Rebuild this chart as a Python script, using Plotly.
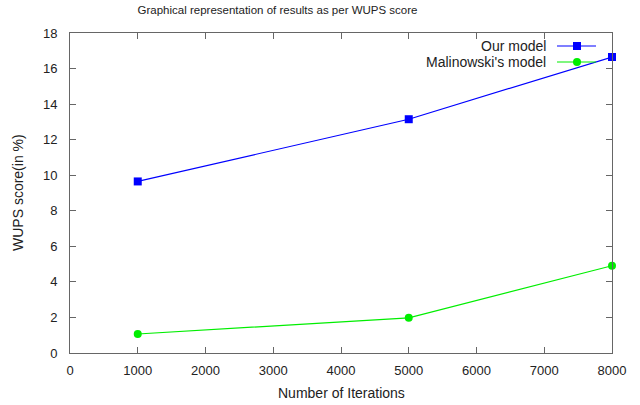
import plotly.graph_objects as go

iterations = [1000, 5000, 8000]
our_model = [9.65, 13.15, 16.65]
malinowski = [1.07, 1.98, 4.91]
x_ticks = [0, 1000, 2000, 3000, 4000, 5000, 6000, 7000, 8000]
y_ticks = [0, 2, 4, 6, 8, 10, 12, 14, 16, 18]
names = ["Our model", "Malinowski's model"]
colors = ["#0000ff", "#00ee00"]
symbols = ["square", "circle"]

W, H = 640, 405
L, R, T, B = 70, 28, 33, 52
TXT = "#222222"

fig = go.Figure()
for vals, name, c, s in zip([our_model, malinowski], names, colors, symbols):
    fig.add_trace(go.Scatter(x=iterations, y=vals, name=name, mode="lines+markers",
                             line=dict(color=c, width=1.2),
                             marker=dict(symbol=s, size=8, color=c),
                             cliponaxis=False, showlegend=False))

axis_common = dict(showline=True, linecolor="#666666", linewidth=1, mirror="ticks",
                   ticks="inside", ticklen=6, tickcolor="#666666", showgrid=False,
                   zeroline=False, automargin=False, tickfont=dict(size=13, color=TXT))
fig.update_xaxes(range=[0, 8000], tickvals=x_ticks, ticktext=[str(v) for v in x_ticks],
                 ticklabelstandoff=5, **axis_common)
fig.update_yaxes(range=[0, 18], tickvals=y_ticks, ticktext=[str(v) for v in y_ticks],
                 ticklabelstandoff=9, **axis_common)

pw = W - L - R
ph = H - T - B
def px(xp):
    return (xp - L) / pw
def py(yp):
    return (H - B - yp) / ph

shapes = []
annotations = [
    dict(xref="paper", yref="paper", x=px(341), y=py(393), text="Number of Iterations",
         showarrow=False, xanchor="center", yanchor="middle", font=dict(size=14, color=TXT)),
    dict(xref="paper", yref="paper", x=px(18), y=py(193), text="WUPS score(in %)", textangle=-90,
         showarrow=False, xanchor="center", yanchor="middle", font=dict(size=14, color=TXT)),
]
for i, (name, c, s) in enumerate(zip(names, colors, symbols)):
    yy = 46 + i * 16
    annotations.append(dict(xref="paper", yref="paper", x=px(548), y=py(yy), text=name,
                            showarrow=False, xanchor="right", yanchor="middle",
                            font=dict(size=14, color=TXT)))
    shapes.append(dict(type="line", xref="paper", yref="paper", x0=px(557), x1=px(596),
                       y0=py(yy), y1=py(yy), line=dict(color=c, width=1.2)))
    r = 4
    shapes.append(dict(type="rect" if s == "square" else "circle", xref="paper", yref="paper",
                       x0=px(577 - r), x1=px(577 + r), y0=py(yy - r), y1=py(yy + r),
                       fillcolor=c, line=dict(color=c, width=0)))

fig.update_layout(
    width=W, height=H,
    margin=dict(l=L, r=R, t=T, b=B),
    plot_bgcolor="white", paper_bgcolor="white",
    font=dict(family="Liberation Sans, Arial, sans-serif", size=12, color=TXT),
    title=dict(text="Graphical representation of results as per WUPS score",
               x=277.5 / W, xanchor="center", y=1 - 10 / H, yanchor="middle",
               font=dict(size=11.5, color=TXT)),
    shapes=shapes, annotations=annotations,
)
fig.write_html("out.html", config={"displayModeBar": False},
               post_script="document.body.style.margin='0';document.body.style.padding='0';")
